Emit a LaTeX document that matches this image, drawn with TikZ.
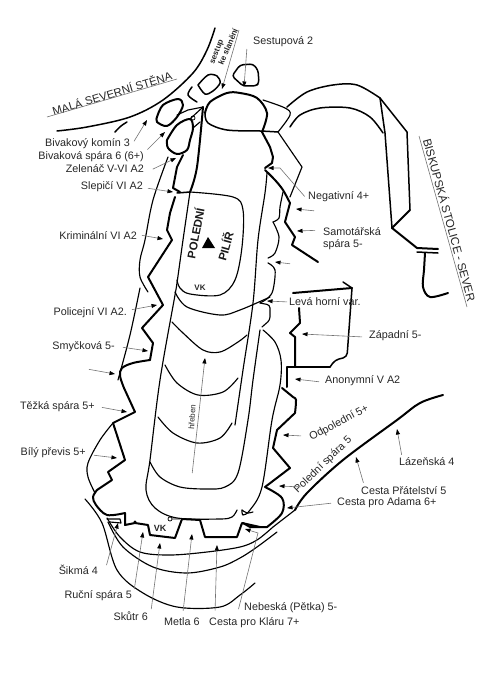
\documentclass[tikz,border=0pt]{standalone}
\usepackage{fontspec}
\setmainfont{Liberation Sans}
\usetikzlibrary{arrows.meta}
\tikzset{
 heavy/.style={line width=2pt,line join=round,line cap=round},
 mid/.style={line width=1.5pt,line join=round,line cap=round},
 thin line/.style={line width=1.15pt,line join=round,line cap=round},
 pointer/.style={draw=black!55,line width=.6pt,shorten <=2pt,-{Triangle[length=5.5pt,width=4pt,color=black]}},
 guide/.style={draw=black!55,line width=.6pt},
 lab/.style={inner sep=0pt,font=\fontsize{10.8}{12}\selectfont,text=black!85},
 le/.style={lab,anchor=east},
 lw/.style={lab,anchor=west},
 ls/.style={lab,anchor=south},
 sm/.style={inner sep=0pt,font=\bfseries\fontsize{8}{9}\selectfont,text=black!85},
}
\newcommand{\curve}[2]{\draw[#1] plot[smooth,tension=.55] coordinates {#2};}
\begin{document}
\begin{tikzpicture}[x=1pt,y=-1pt]
\useasboundingbox (0,0) rectangle (495,690);
% --- rock outlines ---
\curve{mid}{(57,131)(87,127)(130,117)(163,100)(193,73)(207,50)(215,28)}
\curve{mid}{(115,132)(121,126)(127,122)}
\curve{heavy}{(157,117)(163,105)(178,99)(183,105)(177,117)(167,126)(157,122)(157,117)}
\curve{mid}{(198,85)(208,75)(217,76)(220,83)(213,91)(205,94)(198,85)}
\curve{mid}{(192,87)(188,95)(197,102)}
\curve{heavy}{(167,140)(177,125)(190,119)(193,128)(190,140)(187,150)(177,154)(168,148)(167,140)}
\draw[thin line] (177,115) -- (188,110) -- (203,107);
\draw[thin line] (190,119) -- (203,107);
\draw[thin line] (193,128) -- (200,122);
\draw[line width=.7pt] (193,118) circle (2pt);
% sestupova boulder
\draw[mid,rounded corners=3pt] (243,86) -- (232,76) -- (240,65) -- (253,64) -- (258,70) -- (259,83) -- (256,86) -- cycle;
% top boulder
\curve{heavy}{(205,113)(210,102)(227,93)(240,93)(257,98)(267,113)(262,132)}
\curve{mid}{(205,113)(208,123)(227,130)(260,131)(278,132)}
\draw[heavy] (262,132) -- (270,147) -- (273,157) -- (272,163) -- (265,168);
\curve{thin line}{(263,100)(285,108)(290,115)(278,132)}
\draw[thin line] (278,132) -- (302,167) -- (290,197);
% right outliers
\curve{mid}{(287,107)(307,92)(333,85)(357,85)(380,98)}
\draw[mid] (380,98) -- (407,132) -- (410,210);
\curve{mid}{(290,127)(300,115)(320,108)(350,108)(370,117)(383,133)}
\draw[mid] (380,98) -- (385,133) -- (392,228);
\draw[heavy] (410,210) -- (392,228) -- (417,248) -- (438,249);
\draw[mid] (417,252) -- (438,253);
\curve{heavy}{(425,253)(424,270)(423,287)(430,297)(448,293)}
% main long left thin
\curve{thin line}{(168,157)(153,200)(145,240)(140,260)(140,277)(148,292)}
\curve{thin line}{(140,288)(130,335)(118,380)}
\curve{thin line}{(113,423)(100,440)(88,463)(88,477)(95,493)}
\curve{thin line}{(85,499)(102,523)(117,570)(143,593)(177,607)(220,607)(240,595)(255,583)}
\curve{thin line}{(107,518)(120,537)(140,552)(170,555)(207,552)(240,547)(257,540)(273,527)}
\curve{thin line}{(108,522)(123,547)(153,567)(187,573)(220,567)(240,558)(257,547)(277,532)}
% thick route outline left
\draw[heavy] (183,155) -- (177,167) -- (173,188) -- (180,192);
\draw[mid] (177,193) -- (190,192);
\draw[heavy] (175,197) -- (170,213) -- (167,230) -- (172,240) -- (148,277) -- (163,305) -- (142,328) -- (153,343) -- (150,360);
\curve{heavy}{(150,360)(133,363)(122,368)(120,376)(124,388)}
\draw[heavy] (124,388) -- (135,412) -- (113,423) -- (125,460) -- (108,472) -- (112,480) -- (97,490);
\curve{heavy}{(97,490)(93,497)(96,505)(107,515)(125,513)}
\draw[heavy] (125,513) -- (125,525) -- (135,523) -- (148,525) -- (150,535) -- (175,538) -- (182,519) -- (200,520) -- (205,537) -- (237,537) -- (242,523) -- (260,527);
\draw[heavy] (243,523) -- (250,527) -- (267,527);
\curve{heavy}{(267,527)(282,513)(282,498)(265,487)}
\draw[heavy] (265,487) -- (290,468) -- (273,448) -- (277,430) -- (295,413);
\curve{heavy}{(295,413)(296,400)(293,397)(282,388)}
\draw[heavy] (287,387) -- (287,367) -- (330,367);
\draw[heavy] (295,367) -- (295,337) -- (290,333) -- (300,323) -- (299,308);
\draw[heavy] (293,293) -- (352,288);
\draw[mid] (343,282) -- (352,288);
\draw[mid,rounded corners=4pt] (330,367) -- (335,360) -- (347,357) -- (352,288);
% right thick route
\curve{heavy}{(265,170)(275,180)(283,190)(290,203)}
\draw[heavy] (290,203) -- (285,222) -- (295,237) -- (292,245) -- (318,262);
% long inner lines
\curve{heavy}{(203,107)(197,167)(190,192)}
\curve{thin line}{(190,192)(183,240)(177,283)(175,295)(160,380)(150,460)(146,490)(155,508)(177,518)(220,519)(232,517)(237,510)}
\curve{thin line}{(242,510)(247,513)(253,512)}
\curve{thin line}{(267,173)(265,193)(258,240)(253,303)(243,370)(235,425)}
\curve{thin line}{(260,330)(253,380)(248,420)(238,473)(225,487)(207,489)(180,487)(160,477)(150,462)}
\curve{thin line}{(263,330)(275,342)(281,360)(280,385)(272,420)(262,487)(250,510)(243,515)(242,510)}
\curve{thin line}{(283,192)(280,207)(279,218)(273,222)}
\curve{thin line}{(273,222)(279,237)(275,253)(268,258)}
\curve{thin line}{(268,263)(275,270)(273,290)(268,298)(260,303)}
\draw[thin line,rounded corners=3pt] (260,303) -- (270,305) -- (270,320) -- (262,327);
% inner rect
\curve{thin line}{(190,192)(233,197)(243,210)(242,247)(235,280)(220,295)(190,294)(180,288)(177,280)}
% terraces
\curve{thin line}{(175,292)(187,307)(220,315)(240,310)(270,297)}
\curve{thin line}{(172,322)(183,333)(203,350)(220,352)(238,342)(247,335)}
\curve{thin line}{(165,365)(177,383)(198,395)(223,392)(238,378)}
\curve{thin line}{(158,417)(173,433)(197,443)(220,438)(232,423)}
% thick right diagonal
\curve{heavy}{(443,395)(420,403)(397,420)(343,460)(307,493)(295,510)}
\draw[thin line] (295,510) -- (273,527);
% small bits at the foot
\draw[thin line] (107,519) -- (120,519) -- (121,523) -- (110,522);
\fill (135,522) circle (1.6pt);
\draw[line width=.7pt] (170,519) circle (2pt) (172,519) -- (180,519);
% --- labels ---
\node[le] (bk) at (130,144) {Bivakový komín 3};
\node[le] (bs) at (144,157) {Bivaková spára 6 (6+)};
\node[le] (ze) at (144,169) {Zelenáč V-VI A2};
\node[le] (sl) at (143,187) {Slepičí VI A2};
\node[le] (kr) at (137,236) {Kriminální VI A2};
\node[le] (po) at (127,313) {Policejní VI A2.};
\node[le] (sm) at (115,347) {Smyčková 5-};
\node[le] (te) at (95,407) {Těžká spára 5+};
\node[le] (bi) at (86,453) {Bílý převis 5+};
\node[le] (si) at (98,570) {Šikmá 4};
\node[le] (ru) at (132,596) {Ruční spára 5};
\node[le] (sk) at (148,616) {Skůtr 6};
\node[lw] (me) at (164,622) {Metla 6};
\node[lw] (kl) at (209,623) {Cesta pro Kláru 7+};
\node[lw] (ne) at (244,608) {Nebeská (Pětka) 5-};
\node[lw] (ad) at (337,503) {Cesta pro Adama 6+};
\node[lw] (pr) at (361,491) {Cesta Přátelství 5};
\node[lw] (la) at (399,462) {Lázeňská 4};
\node[lab,rotate=44] (pd) at (323,465) {Polední spára 5};
\node[lab,rotate=28] (od) at (339,423) {Odpolední 5+};
\node[lw] (an) at (325,381) {Anonymní V A2};
\node[lw] (za) at (369,336) {Západní 5-};
\node[lw] (lv) at (289,302) {Levá horní var.};
\node[lab,anchor=north west,align=left] (sa) at (323,227) {Samotářská\\spára 5-};
\node[lw] (ng) at (308,197) {Negativní 4+};
\node[lw] (se) at (253,42) {Sestupová 2};
\node[inner sep=0pt,font=\fontsize{11.3}{12}\selectfont,text=black!85,rotate=17] (ma) at (112,93) {MALÁ SEVERNÍ STĚNA};
\node[inner sep=0pt,font=\fontsize{11.6}{12}\selectfont,text=black!85,rotate=-74.5] (bp) at (450,220) {BISKUPSKÁ STOLICE - SEVER};
\node[sm,rotate=69] (st) at (217,52) {sestup};
\node[sm,rotate=67] (ks) at (228,47) {ke slanění};
\node[inner sep=0pt,font=\bfseries\fontsize{11.5}{12}\selectfont,text=black!90,rotate=79] (pl) at (195,233) {POLEDNÍ};
\node[inner sep=0pt,font=\bfseries\fontsize{11.5}{12}\selectfont,text=black!90,rotate=74] (pi) at (225,246) {PILÍŘ};
\node[sm] (v1) at (200,288) {VK};
\node[sm,font=\bfseries\fontsize{9}{10}\selectfont] (v2) at (160,528) {VK};
\node[inner sep=0pt,font=\fontsize{8}{9}\selectfont,text=black!85,rotate=86] (hr) at (192,417) {hřeben};
\fill (208,237) -- (202,248) -- (215,248) -- cycle;
% --- tips ---
\foreach \n/\p in {tbk/{147,120},tbs/{165,132},tze/{176,158},tsl/{173,192},tkr/{163,239},tpo/{157,305},tsm/{148,351},tte/{127,412},tbi/{117,458},tsi/{118,523},tru/{143,532},tsk/{160,543},tme/{192,534},tkl/{217,545},tne/{245,529},tad/{287,508},tpr/{356,457},tla/{397,429},tpd/{279,486},tod/{283,435},tan/{295,379},tza/{302,334},tlv/{267,301},tsa/{297,231},tng/{268,168},tse/{244,87},tsl2/{222,89},
 f1a/{87,369},f1b/{115,374},f2a/{292,264},f2b/{275,262},f3a/{316,211},f3b/{296,209},hra/{192,475},hrb/{205,358},nge/{280,168},nee/{258,533},tpda/{303,487},toda/{303,436}}
  {\coordinate (\n) at (\p);}
% --- pointers ---
\draw[pointer] (bk.east) ++(3,-1) -- (tbk);
\draw[pointer] (bs.east) ++(2,-6) -- (tbs);
\draw[pointer] (ze.east) ++(7,1) -- (tze);
\draw[pointer] (sl.east) ++(3,1) -- (tsl);
\draw[pointer] (kr.east) ++(3,-1) -- (tkr);
\draw[pointer] (po.east) ++(3,-3) -- (tpo);
\draw[pointer] (sm.east) ++(6,0) -- (tsm);
\draw[pointer] (f1a) -- (f1b);
\draw[pointer] (te.east) ++(5,0) -- (tte);
\draw[pointer] (bi.east) ++(6,2) -- (tbi);
\draw[pointer] (si.east) ++(8,-3) -- (tsi);
\draw[pointer] (ru.east) ++(2,-5) -- (tru);
\draw[pointer] (sk.east) ++(3,-5) -- (tsk);
\draw[pointer] (me.north) ++(1,-5) -- (tme);
\draw[pointer] (kl.north west) ++(6,-5) -- (tkl);
\draw[pointer] (ne.west) ++(-6,3) -- (nee) -- (tne);
\draw[pointer] (ad.west) ++(-4,0) -- (tad);
\draw[pointer] (pr.north west) ++(3,-2) -- (tpr);
\draw[pointer] (la.north west) ++(3,-1) -- (tla);
\draw[pointer] (tpda) -- (tpd);
\draw[pointer] (toda) -- (tod);
\draw[pointer] (an.west) ++(-4,1) -- (tan);
\draw[pointer] (za.west) ++(-5,1) -- (tza);
\draw[pointer] (lv.west) -- (tlv);
\draw[pointer] (f2a) -- (f2b);
\draw[pointer] (f3a) -- (f3b);
\draw[pointer] (sa.west) ++(-6,-8) -- (tsa);
\draw[pointer] (ng.west) ++(-2,1) -- (nge) -- (tng);
\draw[pointer] (se.west) ++(-6,5) -- (tse);
\draw[pointer] (hra) -- (hrb);
\draw[guide] (47,117) -- (177,79);
\draw[pointer,shorten <=0pt] (239,30) -- (tsl2);
\draw[guide] (419,136) -- (467,307);
\end{tikzpicture}
\end{document}
